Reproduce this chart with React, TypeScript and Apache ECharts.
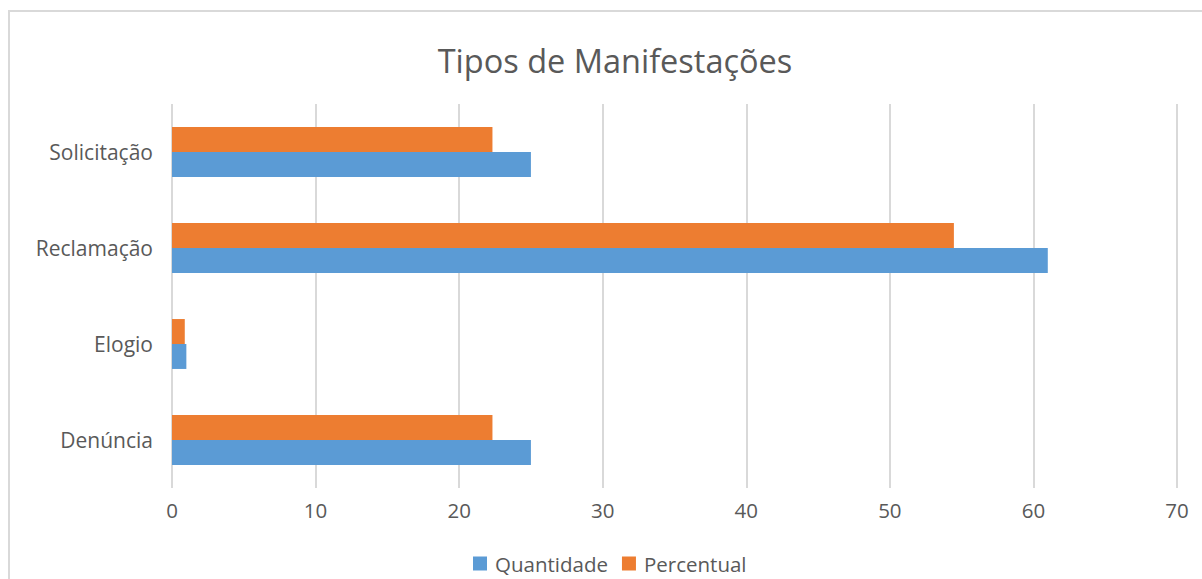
import React, { useEffect, useRef } from "react";
import * as echarts from "echarts";

const categories = ["Denúncia", "Elogio", "Reclamação", "Solicitação"];
const quantidade = [25, 1, 61, 25];
const percentual = [22.32, 0.89, 54.46, 22.32];
const seriesNames = ["Quantidade", "Percentual"];
const title = "Tipos de Manifestações";

const FONT = "'Open Sans', Lato, sans-serif";

export default function App() {
  const ref = useRef<HTMLDivElement>(null);
  useEffect(() => {
    if (!ref.current) return;
    const chart = echarts.init(ref.current, null, { renderer: "svg" });
    chart.setOption({
      animation: false,
      backgroundColor: "#ffffff",
      textStyle: { fontFamily: FONT },
      title: {
        text: title,
        left: 610,
        top: 39,
        textAlign: "center",
        textStyle: { fontFamily: FONT, fontSize: 32.5, fontWeight: "normal", color: "#595959" },
      },
      graphic: [
        {
          type: "rect",
          shape: { x: 9, y: 11, width: 1400, height: 800 },
          style: { fill: "none", stroke: "#d9d9d9", lineWidth: 2 },
          silent: true,
          z: -10,
        },
      ],
      legend: {
        data: seriesNames,
        bottom: 0,
        left: 468,
        itemWidth: 14,
        itemHeight: 14,
        itemGap: 14,
        icon: "rect",
        textStyle: { fontFamily: FONT, fontSize: 20.5, color: "#595959", padding: [0, 0, 0, 3] },
      },
      grid: { left: 172, right: 25, top: 104, bottom: 91 },
      xAxis: {
        type: "value",
        min: 0,
        max: 70,
        interval: 10,
        axisLine: { show: false },
        axisTick: { show: false },
        axisLabel: { fontFamily: FONT, fontSize: 20.5, color: "#595959", margin: 11 },
        splitLine: { show: true, lineStyle: { color: "#d9d9d9", width: 2 } },
      },
      yAxis: {
        type: "category",
        data: categories,
        axisLine: { show: false },
        axisTick: { show: false },
        axisLabel: { fontFamily: FONT, fontSize: 21, color: "#595959", margin: 19 },
        splitLine: { show: false },
      },
      series: [
        {
          name: seriesNames[1],
          type: "bar",
          data: percentual,
          itemStyle: { color: "#ed7d31" },
          barGap: "0%",
          barCategoryGap: "48%",
        },
        {
          name: seriesNames[0],
          type: "bar",
          data: quantidade,
          itemStyle: { color: "#5b9bd5" },
          barGap: "0%",
          barCategoryGap: "48%",
        },
      ],
    });
    return () => chart.dispose();
  }, []);
  return (
    <div
      ref={ref}
      style={{ position: "absolute", left: 0, top: 0, width: 1202, height: 579 }}
    />
  );
}
